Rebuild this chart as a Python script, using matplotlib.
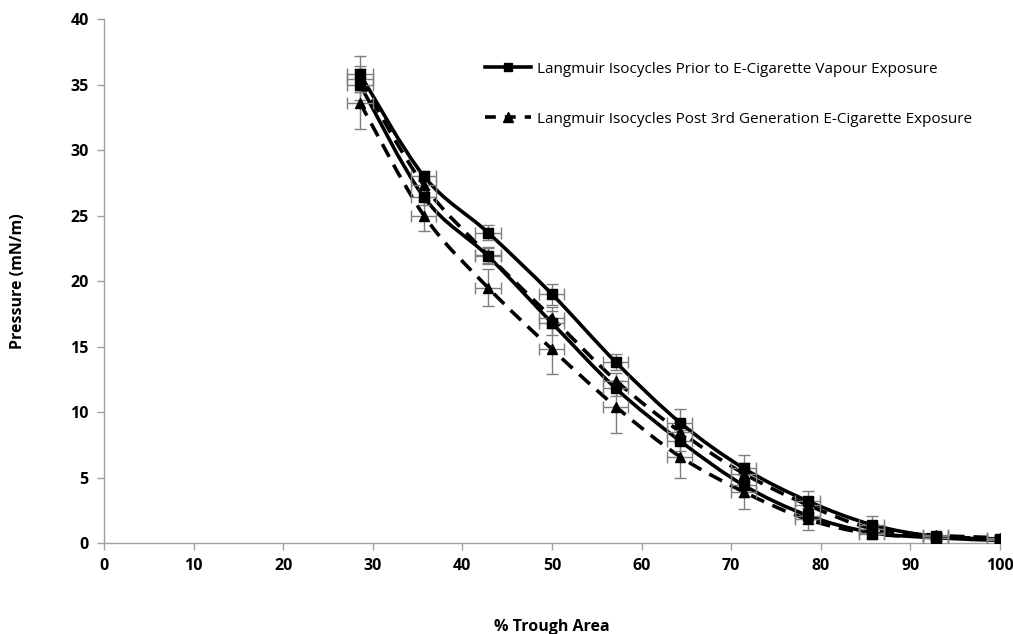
import matplotlib
matplotlib.use('Agg')
import matplotlib.pyplot as plt
import numpy as np
from matplotlib.path import Path
from matplotlib.patches import PathPatch
from matplotlib.lines import Line2D

plt.rcParams['font.family'] = ['Open Sans', 'DejaVu Sans']

# % trough area for every compression step
area = [28.57, 35.71, 42.86, 50.0, 57.14, 64.29, 71.43, 78.57, 85.71, 92.86, 100.0]

# before exposure: two isocycles (squares, solid)
pre_a = [35.8, 28.0, 23.7, 19.0, 13.8, 9.2, 5.7, 3.2, 1.4, 0.5, 0.3]
pre_b = [35.0, 26.4, 21.9, 16.8, 11.8, 7.8, 4.4, 2.1, 0.8, 0.4, 0.2]
pre_a_err = [1.4, 0.4, 0.6, 0.8, 0.6, 1.0, 1.0, 0.8, 0.7, 0.3, 0.2]
pre_b_err = [1.2, 0.6, 0.6, 0.9, 0.6, 0.8, 0.9, 0.6, 0.4, 0.2, 0.2]

# after exposure: two isocycles (triangles, dashed)
post_a = [35.4, 27.3, 22.0, 17.2, 12.4, 8.5, 5.3, 2.9, 1.1, 0.6, 0.4]
post_b = [33.6, 25.0, 19.5, 14.8, 10.4, 6.6, 3.9, 1.8, 0.7, 0.5, 0.3]
post_a_err = [1.0, 0.5, 0.6, 0.8, 0.6, 0.8, 0.8, 0.6, 0.4, 0.2, 0.2]
post_b_err = [2.0, 1.2, 1.4, 1.9, 2.0, 1.6, 1.3, 0.8, 0.4, 0.2, 0.2]

area_err = 1.4


def smooth_path(x, y):
    # Excel-style smoothed line: cubic Bezier segments with Catmull-Rom handles
    x = np.asarray(x, float)
    y = np.asarray(y, float)
    pts = np.column_stack([x, y])
    verts = [pts[0]]
    codes = [Path.MOVETO]
    n = len(pts)
    for i in range(n - 1):
        p0 = pts[i - 1] if i > 0 else pts[i]
        p1 = pts[i]
        p2 = pts[i + 1]
        p3 = pts[i + 2] if i + 2 < n else pts[i + 1]
        c1 = p1 + (p2 - p0) / 6.0
        c2 = p2 - (p3 - p1) / 6.0
        verts += [c1, c2, p2]
        codes += [Path.CURVE4] * 3
    return Path(verts, codes)


fig = plt.figure(figsize=(10.13, 6.34), dpi=100)
ax = fig.add_axes([0.1027, 0.1435, 0.8843, 0.8265])

for series, err, marker, ls in [
    (pre_a, pre_a_err, 's', '-'),
    (pre_b, pre_b_err, 's', '-'),
    (post_a, post_a_err, '^', (0, (4, 2.5))),
    (post_b, post_b_err, '^', (0, (4, 2.5))),
]:
    ax.add_patch(PathPatch(smooth_path(area, series), facecolor='none',
                           edgecolor='black', lw=2.6, linestyle=ls,
                           capstyle='butt', zorder=2))
    ax.errorbar(area, series, yerr=err, xerr=area_err, fmt='none',
                ecolor='#7f7f7f', elinewidth=1.0, capsize=4, capthick=1.0,
                zorder=3)
    ax.plot(area, series, linestyle='none', marker=marker, color='black',
            markersize=7, zorder=4)

ax.set_xlim(0, 100)
ax.set_ylim(0, 40)
ax.set_xticks(np.arange(0, 101, 10))
ax.set_yticks(np.arange(0, 41, 5))

for side in ['top', 'right']:
    ax.spines[side].set_visible(False)
for side in ['left', 'bottom']:
    ax.spines[side].set_color('#a0a0a0')
    ax.spines[side].set_linewidth(1.0)
ax.tick_params(axis='both', direction='out', length=5, width=1.0,
               color='#a0a0a0', labelsize=11.5, pad=6)
for lab in ax.get_xticklabels() + ax.get_yticklabels():
    lab.set_fontweight('bold')

ax.set_xlabel('% Trough Area', fontsize=11.5, fontweight='bold', labelpad=32)
ax.set_ylabel('Pressure (mN/m)', fontsize=11.5, fontweight='bold', labelpad=32)

handles = [
    Line2D([], [], color='black', lw=2.6, marker='s', markersize=6),
    Line2D([], [], color='black', lw=2.6, linestyle=(0, (3, 2.5)),
           marker='^', markersize=7),
]
labels = ['Langmuir Isocycles Prior to E-Cigarette Vapour Exposure',
          'Langmuir Isocycles Post 3rd Generation E-Cigarette Exposure']
ax.legend(handles, labels, loc='upper left', bbox_to_anchor=(0.41, 0.945),
          frameon=False, fontsize=11, labelspacing=2.3, handlelength=3.0,
          handletextpad=0.4)

fig.savefig('out.png', dpi=100)
